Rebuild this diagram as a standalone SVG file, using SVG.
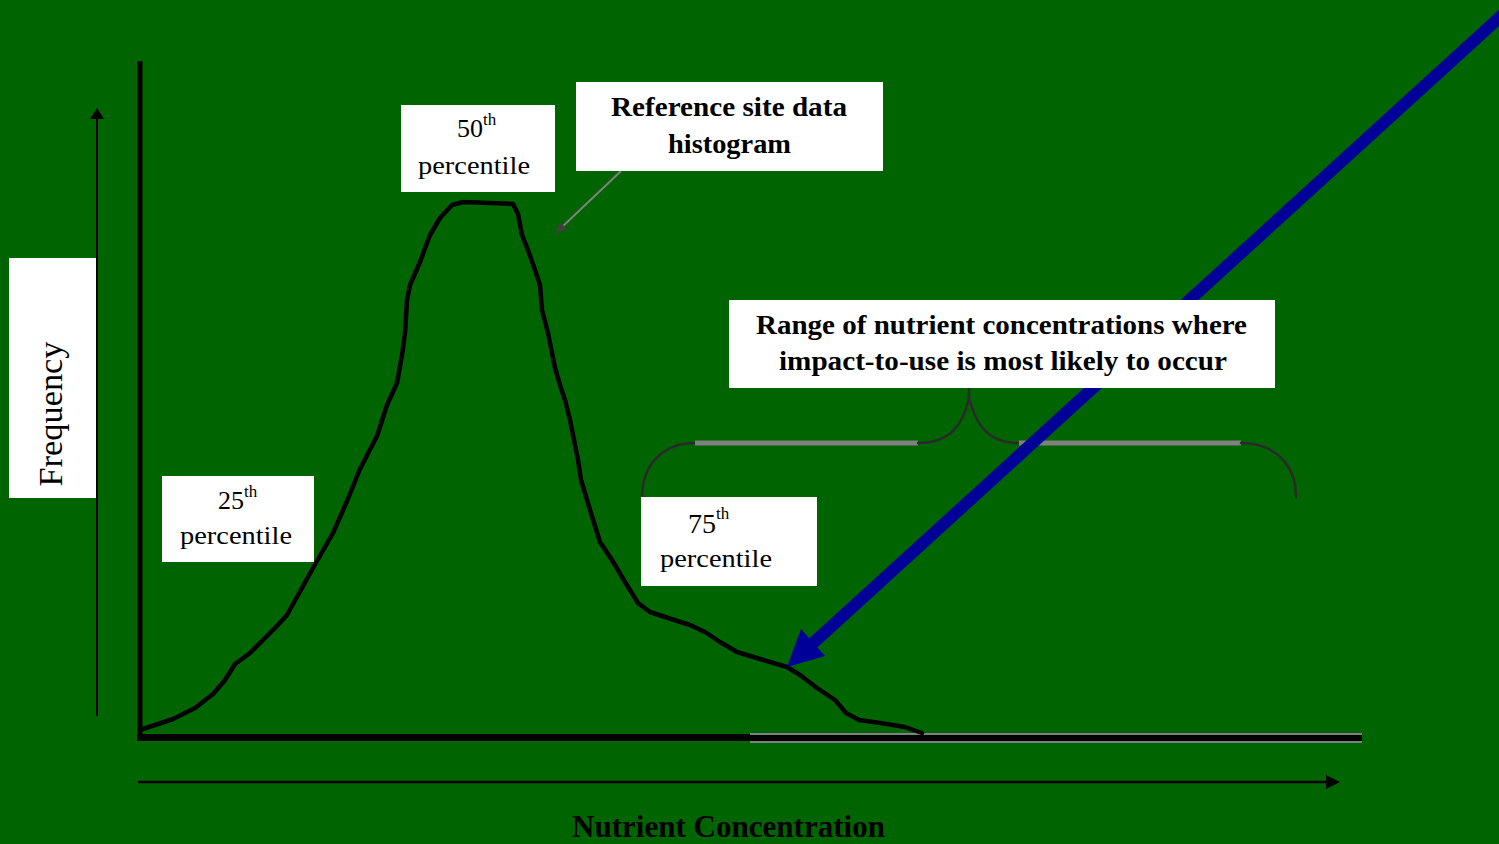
<svg xmlns="http://www.w3.org/2000/svg" width="1499" height="844" viewBox="0 0 1499 844">
<style>
.box{fill:#ffffff}
.reg{font-family:"Liberation Serif","Times New Roman",serif;fill:#000}
.bold{font-family:"Liberation Serif","Times New Roman",serif;font-weight:bold;fill:#000}
.brace{fill:none;stroke:#2a2a2a;stroke-width:2.5;stroke-linecap:round}
.bar{stroke:#808080;stroke-width:5}
</style>
<rect x="0" y="0" width="1499" height="844" fill="#006400"/>

<g id="axes">
  <line x1="140" y1="61" x2="140" y2="740" stroke="#000" stroke-width="5"/>
  <line x1="137" y1="737.5" x2="752" y2="737.5" stroke="#000" stroke-width="7"/>
  <rect x="750" y="733" width="612" height="10" fill="#808080"/>
  <rect x="750" y="735" width="612" height="6" fill="#000"/>
  <line x1="97" y1="117" x2="97" y2="716" stroke="#000" stroke-width="2"/>
  <polygon points="97,108 90,119 104,119" fill="#000"/>
  <line x1="138" y1="782" x2="1328" y2="782" stroke="#000" stroke-width="2.5"/>
  <polygon points="1340,782 1326,775 1326,789" fill="#000"/>
</g>

<g id="histogram">
  <polyline fill="none" stroke="#000" stroke-width="4.5" stroke-linejoin="round" stroke-linecap="round"
    points="140,730 155,725 173,719 195,708 213,694 225,680 235,664 250,653 263,640 275,628 287,615 303,586 317,561 333,533 347,501 360,469 377,436 387,405 397,383 402,355 405,333 407,300 410,285 420,262 430,235 440,218 452,205 463,202 490,203 513,204 518,214 522,235 528,250 535,270 540,285 542,310 548,333 555,368 560,385 565,400 570,420 573,435 578,460 581,480 590,510 600,542 612,560 625,582 638,603 650,612 668,618 690,625 705,632 720,642 737,652 760,659 787,667 800,675 817,688 835,700 846,713 859,720 880,723 905,727 922,733"/>
</g>

<g id="connectors">
  <line x1="621" y1="171" x2="562" y2="227" stroke="#808080" stroke-width="2"/>
  <polygon points="555,234 567,229 560,222" fill="#404040"/>
  <path class="brace" d="M642 497 C642 468 660 443 695 443"/>
  <line class="bar" x1="695" y1="443" x2="918" y2="443"/>
  <path class="brace" d="M918 443 C950 443 963 425 969 398 L969 388 M969 398 C976 425 988 443 1019 443"/>
  <line class="bar" x1="1019" y1="443" x2="1241" y2="443"/>
  <path class="brace" d="M1241 443 C1275 443 1296 465 1296 497"/>
  <line x1="811" y1="645" x2="1512" y2="6" stroke="#000099" stroke-width="12"/>
  <polygon points="787,667 801,629 825,656" fill="#000099"/>
</g>

<g id="freq-label">
  <rect class="box" x="9" y="258" width="87" height="240"/>
  <text class="reg" transform="translate(62,414) rotate(-90)" text-anchor="middle" font-size="33" textLength="145" lengthAdjust="spacingAndGlyphs">Frequency</text>
</g>

<g id="p50">
  <rect class="box" x="401" y="105" width="154" height="87"/>
  <text class="reg" x="457" y="137" font-size="26">50<tspan font-size="17" dy="-12">th</tspan></text>
  <text class="reg" x="418" y="174" font-size="26" textLength="112" lengthAdjust="spacingAndGlyphs">percentile</text>
</g>

<g id="ref-box">
  <rect class="box" x="576" y="82" width="307" height="89"/>
  <text class="bold" x="729" y="116" font-size="27" text-anchor="middle" textLength="236" lengthAdjust="spacingAndGlyphs">Reference site data</text>
  <text class="bold" x="729.5" y="153" font-size="27" text-anchor="middle" textLength="123" lengthAdjust="spacingAndGlyphs">histogram</text>
</g>

<g id="range-box">
  <rect class="box" x="729" y="300" width="546" height="88"/>
  <text class="bold" x="1001.5" y="334" font-size="27" text-anchor="middle" textLength="491" lengthAdjust="spacingAndGlyphs">Range of nutrient concentrations where</text>
  <text class="bold" x="1003" y="370" font-size="27" text-anchor="middle" textLength="448" lengthAdjust="spacingAndGlyphs">impact-to-use is most likely to occur</text>
</g>

<g id="p25">
  <rect class="box" x="162" y="476" width="152" height="86"/>
  <text class="reg" x="218" y="509" font-size="26">25<tspan font-size="17" dy="-12">th</tspan></text>
  <text class="reg" x="180" y="544" font-size="26" textLength="112" lengthAdjust="spacingAndGlyphs">percentile</text>
</g>

<g id="p75">
  <rect class="box" x="641" y="497" width="176" height="89"/>
  <text class="reg" x="688" y="533" font-size="28">75<tspan font-size="17" dy="-14">th</tspan></text>
  <text class="reg" x="660" y="567" font-size="26" textLength="112" lengthAdjust="spacingAndGlyphs">percentile</text>
</g>

<g id="x-label">
  <text class="bold" x="728.5" y="837" font-size="31" text-anchor="middle" textLength="313" lengthAdjust="spacingAndGlyphs">Nutrient Concentration</text>
</g>
</svg>
